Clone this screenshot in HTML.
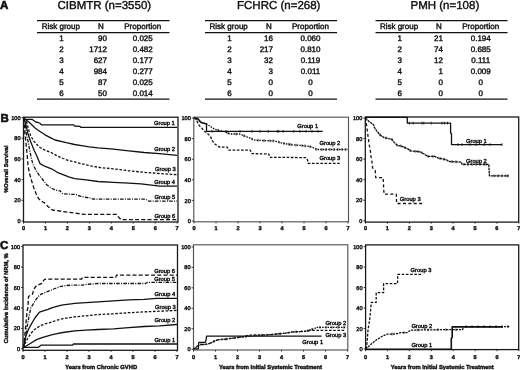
<!DOCTYPE html>
<html><head><meta charset="utf-8"><title>Figure</title>
<style>
html,body{margin:0;padding:0;background:#fff;}
body{width:520px;height:370px;overflow:hidden;}
svg{display:block;font-family:"Liberation Sans", sans-serif;fill:#111;}
text{stroke:#111;stroke-width:0.4px;text-rendering:geometricPrecision;}
.wrap{will-change:transform;}
</style></head>
<body>
<div class="wrap"><svg width="520" height="370" viewBox="0 0 520 370">
<rect width="520" height="370" fill="#fff"/>
<text x="0" y="8.8" font-size="11.5" text-anchor="start" font-weight="bold" style="stroke-width:0.6px">A</text>
<text x="0.4" y="121.7" font-size="11.5" text-anchor="start" font-weight="bold" style="stroke-width:0.6px">B</text>
<text x="0.1" y="248.8" font-size="11.5" text-anchor="start" font-weight="bold" style="stroke-width:0.6px">C</text>
<text x="57.5" y="9.0" font-size="11.5" text-anchor="start" font-weight="normal" >CIBMTR (n=3550)</text>
<text x="237" y="9.0" font-size="11.5" text-anchor="start" font-weight="normal" >FCHRC (n=268)</text>
<text x="410.5" y="9.0" font-size="11.5" text-anchor="start" font-weight="normal" >PMH (n=108)</text>
<line x1="37" y1="20.6" x2="169.5" y2="20.6" stroke="#111" stroke-width="1.2"/>
<line x1="37" y1="32.6" x2="169.5" y2="32.6" stroke="#111" stroke-width="1.2"/>
<line x1="37" y1="99.1" x2="169.5" y2="99.1" stroke="#111" stroke-width="1.3"/>
<text x="60.8" y="29" font-size="8" text-anchor="middle" font-weight="normal" >Risk group</text>
<text x="101" y="29" font-size="8" text-anchor="middle" font-weight="normal" >N</text>
<text x="142.75" y="29" font-size="8" text-anchor="middle" font-weight="normal" >Proportion</text>
<text x="61.5" y="41" font-size="8" text-anchor="middle" font-weight="normal" >1</text>
<text x="107" y="41" font-size="8" text-anchor="end" font-weight="normal" >90</text>
<text x="142.75" y="41" font-size="8" text-anchor="middle" font-weight="normal" >0.025</text>
<text x="61.5" y="52" font-size="8" text-anchor="middle" font-weight="normal" >2</text>
<text x="107" y="52" font-size="8" text-anchor="end" font-weight="normal" >1712</text>
<text x="142.75" y="52" font-size="8" text-anchor="middle" font-weight="normal" >0.482</text>
<text x="61.5" y="63" font-size="8" text-anchor="middle" font-weight="normal" >3</text>
<text x="107" y="63" font-size="8" text-anchor="end" font-weight="normal" >627</text>
<text x="142.75" y="63" font-size="8" text-anchor="middle" font-weight="normal" >0.177</text>
<text x="61.5" y="74" font-size="8" text-anchor="middle" font-weight="normal" >4</text>
<text x="107" y="74" font-size="8" text-anchor="end" font-weight="normal" >984</text>
<text x="142.75" y="74" font-size="8" text-anchor="middle" font-weight="normal" >0.277</text>
<text x="61.5" y="85" font-size="8" text-anchor="middle" font-weight="normal" >5</text>
<text x="107" y="85" font-size="8" text-anchor="end" font-weight="normal" >87</text>
<text x="142.75" y="85" font-size="8" text-anchor="middle" font-weight="normal" >0.025</text>
<text x="61.5" y="96" font-size="8" text-anchor="middle" font-weight="normal" >6</text>
<text x="107" y="96" font-size="8" text-anchor="end" font-weight="normal" >50</text>
<text x="142.75" y="96" font-size="8" text-anchor="middle" font-weight="normal" >0.014</text>
<line x1="205" y1="20.6" x2="337" y2="20.6" stroke="#111" stroke-width="1.2"/>
<line x1="205" y1="32.6" x2="337" y2="32.6" stroke="#111" stroke-width="1.2"/>
<line x1="205" y1="99.1" x2="337" y2="99.1" stroke="#111" stroke-width="1.3"/>
<text x="228.7" y="29" font-size="8" text-anchor="middle" font-weight="normal" >Risk group</text>
<text x="269" y="29" font-size="8" text-anchor="middle" font-weight="normal" >N</text>
<text x="310.5" y="29" font-size="8" text-anchor="middle" font-weight="normal" >Proportion</text>
<text x="229.39999999999998" y="41" font-size="8" text-anchor="middle" font-weight="normal" >1</text>
<text x="273" y="41" font-size="8" text-anchor="end" font-weight="normal" >16</text>
<text x="310.5" y="41" font-size="8" text-anchor="middle" font-weight="normal" >0.060</text>
<text x="229.39999999999998" y="52" font-size="8" text-anchor="middle" font-weight="normal" >2</text>
<text x="273" y="52" font-size="8" text-anchor="end" font-weight="normal" >217</text>
<text x="310.5" y="52" font-size="8" text-anchor="middle" font-weight="normal" >0.810</text>
<text x="229.39999999999998" y="63" font-size="8" text-anchor="middle" font-weight="normal" >3</text>
<text x="273" y="63" font-size="8" text-anchor="end" font-weight="normal" >32</text>
<text x="310.5" y="63" font-size="8" text-anchor="middle" font-weight="normal" >0.119</text>
<text x="229.39999999999998" y="74" font-size="8" text-anchor="middle" font-weight="normal" >4</text>
<text x="273" y="74" font-size="8" text-anchor="end" font-weight="normal" >3</text>
<text x="310.5" y="74" font-size="8" text-anchor="middle" font-weight="normal" >0.011</text>
<text x="229.39999999999998" y="85" font-size="8" text-anchor="middle" font-weight="normal" >5</text>
<text x="273" y="85" font-size="8" text-anchor="end" font-weight="normal" >0</text>
<text x="310.5" y="85" font-size="8" text-anchor="middle" font-weight="normal" >0</text>
<text x="229.39999999999998" y="96" font-size="8" text-anchor="middle" font-weight="normal" >6</text>
<text x="273" y="96" font-size="8" text-anchor="end" font-weight="normal" >0</text>
<text x="310.5" y="96" font-size="8" text-anchor="middle" font-weight="normal" >0</text>
<line x1="375.5" y1="20.6" x2="507.5" y2="20.6" stroke="#111" stroke-width="1.2"/>
<line x1="375.5" y1="32.6" x2="507.5" y2="32.6" stroke="#111" stroke-width="1.2"/>
<line x1="375.5" y1="99.1" x2="507.5" y2="99.1" stroke="#111" stroke-width="1.3"/>
<text x="399" y="29" font-size="8" text-anchor="middle" font-weight="normal" >Risk group</text>
<text x="439" y="29" font-size="8" text-anchor="middle" font-weight="normal" >N</text>
<text x="480.75" y="29" font-size="8" text-anchor="middle" font-weight="normal" >Proportion</text>
<text x="399.7" y="41" font-size="8" text-anchor="middle" font-weight="normal" >1</text>
<text x="443" y="41" font-size="8" text-anchor="end" font-weight="normal" >21</text>
<text x="480.75" y="41" font-size="8" text-anchor="middle" font-weight="normal" >0.194</text>
<text x="399.7" y="52" font-size="8" text-anchor="middle" font-weight="normal" >2</text>
<text x="443" y="52" font-size="8" text-anchor="end" font-weight="normal" >74</text>
<text x="480.75" y="52" font-size="8" text-anchor="middle" font-weight="normal" >0.685</text>
<text x="399.7" y="63" font-size="8" text-anchor="middle" font-weight="normal" >3</text>
<text x="443" y="63" font-size="8" text-anchor="end" font-weight="normal" >12</text>
<text x="480.75" y="63" font-size="8" text-anchor="middle" font-weight="normal" >0.111</text>
<text x="399.7" y="74" font-size="8" text-anchor="middle" font-weight="normal" >4</text>
<text x="443" y="74" font-size="8" text-anchor="end" font-weight="normal" >1</text>
<text x="480.75" y="74" font-size="8" text-anchor="middle" font-weight="normal" >0.009</text>
<text x="399.7" y="85" font-size="8" text-anchor="middle" font-weight="normal" >5</text>
<text x="443" y="85" font-size="8" text-anchor="end" font-weight="normal" >0</text>
<text x="480.75" y="85" font-size="8" text-anchor="middle" font-weight="normal" >0</text>
<text x="399.7" y="96" font-size="8" text-anchor="middle" font-weight="normal" >6</text>
<text x="443" y="96" font-size="8" text-anchor="end" font-weight="normal" >0</text>
<text x="480.75" y="96" font-size="8" text-anchor="middle" font-weight="normal" >0</text>
<rect x="23.5" y="117.2" width="154.5" height="104.8" fill="none" stroke="#1a1a1a" stroke-width="1.3"/>
<line x1="21.5" y1="221.0" x2="23.5" y2="221.0" stroke="#111" stroke-width="0.8"/>
<text x="20.5" y="223.1" font-size="5.6" text-anchor="end" font-weight="normal" >0</text>
<line x1="21.5" y1="200.3" x2="23.5" y2="200.3" stroke="#111" stroke-width="0.8"/>
<text x="20.5" y="202.4" font-size="5.6" text-anchor="end" font-weight="normal" >20</text>
<line x1="21.5" y1="179.6" x2="23.5" y2="179.6" stroke="#111" stroke-width="0.8"/>
<text x="20.5" y="181.7" font-size="5.6" text-anchor="end" font-weight="normal" >40</text>
<line x1="21.5" y1="158.9" x2="23.5" y2="158.9" stroke="#111" stroke-width="0.8"/>
<text x="20.5" y="161.0" font-size="5.6" text-anchor="end" font-weight="normal" >60</text>
<line x1="21.5" y1="138.2" x2="23.5" y2="138.2" stroke="#111" stroke-width="0.8"/>
<text x="20.5" y="140.29999999999998" font-size="5.6" text-anchor="end" font-weight="normal" >80</text>
<line x1="21.5" y1="117.5" x2="23.5" y2="117.5" stroke="#111" stroke-width="0.8"/>
<text x="20.5" y="119.6" font-size="5.6" text-anchor="end" font-weight="normal" >100</text>
<line x1="23.5" y1="222" x2="23.5" y2="223.6" stroke="#111" stroke-width="0.8"/>
<text x="23.5" y="230.1" font-size="5.6" text-anchor="middle" font-weight="bold" >0</text>
<line x1="45.45" y1="222" x2="45.45" y2="223.6" stroke="#111" stroke-width="0.8"/>
<text x="45.45" y="230.1" font-size="5.6" text-anchor="middle" font-weight="bold" >1</text>
<line x1="67.4" y1="222" x2="67.4" y2="223.6" stroke="#111" stroke-width="0.8"/>
<text x="67.4" y="230.1" font-size="5.6" text-anchor="middle" font-weight="bold" >2</text>
<line x1="89.35" y1="222" x2="89.35" y2="223.6" stroke="#111" stroke-width="0.8"/>
<text x="89.35" y="230.1" font-size="5.6" text-anchor="middle" font-weight="bold" >3</text>
<line x1="111.3" y1="222" x2="111.3" y2="223.6" stroke="#111" stroke-width="0.8"/>
<text x="111.3" y="230.1" font-size="5.6" text-anchor="middle" font-weight="bold" >4</text>
<line x1="133.25" y1="222" x2="133.25" y2="223.6" stroke="#111" stroke-width="0.8"/>
<text x="133.25" y="230.1" font-size="5.6" text-anchor="middle" font-weight="bold" >5</text>
<line x1="155.2" y1="222" x2="155.2" y2="223.6" stroke="#111" stroke-width="0.8"/>
<text x="155.2" y="230.1" font-size="5.6" text-anchor="middle" font-weight="bold" >6</text>
<line x1="177.15" y1="222" x2="177.15" y2="223.6" stroke="#111" stroke-width="0.8"/>
<text x="177.15" y="230.1" font-size="5.6" text-anchor="middle" font-weight="bold" >7</text>
<rect x="193.8" y="117.2" width="154.7" height="104.60000000000001" fill="none" stroke="#555" stroke-width="1.15"/>
<line x1="191.8" y1="221.0" x2="193.8" y2="221.0" stroke="#111" stroke-width="0.8"/>
<text x="190.8" y="223.1" font-size="5.6" text-anchor="end" font-weight="normal" >0</text>
<line x1="191.8" y1="200.4" x2="193.8" y2="200.4" stroke="#111" stroke-width="0.8"/>
<text x="190.8" y="202.5" font-size="5.6" text-anchor="end" font-weight="normal" >20</text>
<line x1="191.8" y1="179.8" x2="193.8" y2="179.8" stroke="#111" stroke-width="0.8"/>
<text x="190.8" y="181.9" font-size="5.6" text-anchor="end" font-weight="normal" >40</text>
<line x1="191.8" y1="159.2" x2="193.8" y2="159.2" stroke="#111" stroke-width="0.8"/>
<text x="190.8" y="161.29999999999998" font-size="5.6" text-anchor="end" font-weight="normal" >60</text>
<line x1="191.8" y1="138.6" x2="193.8" y2="138.6" stroke="#111" stroke-width="0.8"/>
<text x="190.8" y="140.7" font-size="5.6" text-anchor="end" font-weight="normal" >80</text>
<line x1="191.8" y1="118.0" x2="193.8" y2="118.0" stroke="#111" stroke-width="0.8"/>
<text x="190.8" y="120.1" font-size="5.6" text-anchor="end" font-weight="normal" >100</text>
<line x1="194" y1="221.8" x2="194" y2="223.4" stroke="#111" stroke-width="0.8"/>
<text x="194" y="229.9" font-size="5.6" text-anchor="middle" font-weight="bold" >0</text>
<line x1="216" y1="221.8" x2="216" y2="223.4" stroke="#111" stroke-width="0.8"/>
<text x="216" y="229.9" font-size="5.6" text-anchor="middle" font-weight="bold" >1</text>
<line x1="238" y1="221.8" x2="238" y2="223.4" stroke="#111" stroke-width="0.8"/>
<text x="238" y="229.9" font-size="5.6" text-anchor="middle" font-weight="bold" >2</text>
<line x1="260" y1="221.8" x2="260" y2="223.4" stroke="#111" stroke-width="0.8"/>
<text x="260" y="229.9" font-size="5.6" text-anchor="middle" font-weight="bold" >3</text>
<line x1="282" y1="221.8" x2="282" y2="223.4" stroke="#111" stroke-width="0.8"/>
<text x="282" y="229.9" font-size="5.6" text-anchor="middle" font-weight="bold" >4</text>
<line x1="304" y1="221.8" x2="304" y2="223.4" stroke="#111" stroke-width="0.8"/>
<text x="304" y="229.9" font-size="5.6" text-anchor="middle" font-weight="bold" >5</text>
<line x1="326" y1="221.8" x2="326" y2="223.4" stroke="#111" stroke-width="0.8"/>
<text x="326" y="229.9" font-size="5.6" text-anchor="middle" font-weight="bold" >6</text>
<line x1="348" y1="221.8" x2="348" y2="223.4" stroke="#111" stroke-width="0.8"/>
<text x="348" y="229.9" font-size="5.6" text-anchor="middle" font-weight="bold" >7</text>
<rect x="365.3" y="117.0" width="153.40000000000003" height="105.1" fill="none" stroke="#1a1a1a" stroke-width="1.3"/>
<line x1="363.3" y1="220.8" x2="365.3" y2="220.8" stroke="#111" stroke-width="0.8"/>
<text x="362.3" y="222.9" font-size="5.6" text-anchor="end" font-weight="normal" >0</text>
<line x1="363.3" y1="200.24" x2="365.3" y2="200.24" stroke="#111" stroke-width="0.8"/>
<text x="362.3" y="202.34" font-size="5.6" text-anchor="end" font-weight="normal" >20</text>
<line x1="363.3" y1="179.68" x2="365.3" y2="179.68" stroke="#111" stroke-width="0.8"/>
<text x="362.3" y="181.78" font-size="5.6" text-anchor="end" font-weight="normal" >40</text>
<line x1="363.3" y1="159.12" x2="365.3" y2="159.12" stroke="#111" stroke-width="0.8"/>
<text x="362.3" y="161.22" font-size="5.6" text-anchor="end" font-weight="normal" >60</text>
<line x1="363.3" y1="138.56" x2="365.3" y2="138.56" stroke="#111" stroke-width="0.8"/>
<text x="362.3" y="140.66" font-size="5.6" text-anchor="end" font-weight="normal" >80</text>
<line x1="363.3" y1="118.0" x2="365.3" y2="118.0" stroke="#111" stroke-width="0.8"/>
<text x="362.3" y="120.1" font-size="5.6" text-anchor="end" font-weight="normal" >100</text>
<line x1="365.5" y1="222.1" x2="365.5" y2="223.7" stroke="#111" stroke-width="0.8"/>
<text x="365.5" y="229.7" font-size="5.6" text-anchor="middle" font-weight="bold" >0</text>
<line x1="387.4" y1="222.1" x2="387.4" y2="223.7" stroke="#111" stroke-width="0.8"/>
<text x="387.4" y="229.7" font-size="5.6" text-anchor="middle" font-weight="bold" >1</text>
<line x1="409.3" y1="222.1" x2="409.3" y2="223.7" stroke="#111" stroke-width="0.8"/>
<text x="409.3" y="229.7" font-size="5.6" text-anchor="middle" font-weight="bold" >2</text>
<line x1="431.2" y1="222.1" x2="431.2" y2="223.7" stroke="#111" stroke-width="0.8"/>
<text x="431.2" y="229.7" font-size="5.6" text-anchor="middle" font-weight="bold" >3</text>
<line x1="453.1" y1="222.1" x2="453.1" y2="223.7" stroke="#111" stroke-width="0.8"/>
<text x="453.1" y="229.7" font-size="5.6" text-anchor="middle" font-weight="bold" >4</text>
<line x1="475.0" y1="222.1" x2="475.0" y2="223.7" stroke="#111" stroke-width="0.8"/>
<text x="475.0" y="229.7" font-size="5.6" text-anchor="middle" font-weight="bold" >5</text>
<line x1="496.9" y1="222.1" x2="496.9" y2="223.7" stroke="#111" stroke-width="0.8"/>
<text x="496.9" y="229.7" font-size="5.6" text-anchor="middle" font-weight="bold" >6</text>
<line x1="518.8" y1="222.1" x2="518.8" y2="223.7" stroke="#111" stroke-width="0.8"/>
<text x="518.8" y="229.7" font-size="5.6" text-anchor="middle" font-weight="bold" >7</text>
<rect x="23" y="245" width="154.5" height="105.30000000000001" fill="none" stroke="#1a1a1a" stroke-width="1.3"/>
<line x1="21" y1="348.8" x2="23" y2="348.8" stroke="#111" stroke-width="0.8"/>
<text x="20.0" y="350.90000000000003" font-size="5.6" text-anchor="end" font-weight="normal" >0</text>
<line x1="21" y1="328.36" x2="23" y2="328.36" stroke="#111" stroke-width="0.8"/>
<text x="20.0" y="330.46000000000004" font-size="5.6" text-anchor="end" font-weight="normal" >20</text>
<line x1="21" y1="307.92" x2="23" y2="307.92" stroke="#111" stroke-width="0.8"/>
<text x="20.0" y="310.02000000000004" font-size="5.6" text-anchor="end" font-weight="normal" >40</text>
<line x1="21" y1="287.48" x2="23" y2="287.48" stroke="#111" stroke-width="0.8"/>
<text x="20.0" y="289.58000000000004" font-size="5.6" text-anchor="end" font-weight="normal" >60</text>
<line x1="21" y1="267.03999999999996" x2="23" y2="267.03999999999996" stroke="#111" stroke-width="0.8"/>
<text x="20.0" y="269.14" font-size="5.6" text-anchor="end" font-weight="normal" >80</text>
<line x1="21" y1="246.6" x2="23" y2="246.6" stroke="#111" stroke-width="0.8"/>
<text x="20.0" y="248.7" font-size="5.6" text-anchor="end" font-weight="normal" >100</text>
<line x1="23" y1="350.3" x2="23" y2="351.90000000000003" stroke="#111" stroke-width="0.8"/>
<text x="23" y="358.7" font-size="5.6" text-anchor="middle" font-weight="bold" >0</text>
<line x1="45" y1="350.3" x2="45" y2="351.90000000000003" stroke="#111" stroke-width="0.8"/>
<text x="45" y="358.7" font-size="5.6" text-anchor="middle" font-weight="bold" >1</text>
<line x1="67" y1="350.3" x2="67" y2="351.90000000000003" stroke="#111" stroke-width="0.8"/>
<text x="67" y="358.7" font-size="5.6" text-anchor="middle" font-weight="bold" >2</text>
<line x1="89" y1="350.3" x2="89" y2="351.90000000000003" stroke="#111" stroke-width="0.8"/>
<text x="89" y="358.7" font-size="5.6" text-anchor="middle" font-weight="bold" >3</text>
<line x1="111" y1="350.3" x2="111" y2="351.90000000000003" stroke="#111" stroke-width="0.8"/>
<text x="111" y="358.7" font-size="5.6" text-anchor="middle" font-weight="bold" >4</text>
<line x1="133" y1="350.3" x2="133" y2="351.90000000000003" stroke="#111" stroke-width="0.8"/>
<text x="133" y="358.7" font-size="5.6" text-anchor="middle" font-weight="bold" >5</text>
<line x1="155" y1="350.3" x2="155" y2="351.90000000000003" stroke="#111" stroke-width="0.8"/>
<text x="155" y="358.7" font-size="5.6" text-anchor="middle" font-weight="bold" >6</text>
<line x1="177" y1="350.3" x2="177" y2="351.90000000000003" stroke="#111" stroke-width="0.8"/>
<text x="177" y="358.7" font-size="5.6" text-anchor="middle" font-weight="bold" >7</text>
<rect x="193.5" y="244.8" width="154.3" height="105.19999999999999" fill="none" stroke="#555" stroke-width="1.15"/>
<line x1="191.5" y1="349.2" x2="193.5" y2="349.2" stroke="#111" stroke-width="0.8"/>
<text x="190.5" y="351.3" font-size="5.6" text-anchor="end" font-weight="normal" >0</text>
<line x1="191.5" y1="328.74" x2="193.5" y2="328.74" stroke="#111" stroke-width="0.8"/>
<text x="190.5" y="330.84000000000003" font-size="5.6" text-anchor="end" font-weight="normal" >20</text>
<line x1="191.5" y1="308.28" x2="193.5" y2="308.28" stroke="#111" stroke-width="0.8"/>
<text x="190.5" y="310.38" font-size="5.6" text-anchor="end" font-weight="normal" >40</text>
<line x1="191.5" y1="287.82" x2="193.5" y2="287.82" stroke="#111" stroke-width="0.8"/>
<text x="190.5" y="289.92" font-size="5.6" text-anchor="end" font-weight="normal" >60</text>
<line x1="191.5" y1="267.36" x2="193.5" y2="267.36" stroke="#111" stroke-width="0.8"/>
<text x="190.5" y="269.46000000000004" font-size="5.6" text-anchor="end" font-weight="normal" >80</text>
<line x1="191.5" y1="246.9" x2="193.5" y2="246.9" stroke="#111" stroke-width="0.8"/>
<text x="190.5" y="249.0" font-size="5.6" text-anchor="end" font-weight="normal" >100</text>
<line x1="193.5" y1="350" x2="193.5" y2="351.6" stroke="#111" stroke-width="0.8"/>
<text x="193.5" y="358.7" font-size="5.6" text-anchor="middle" font-weight="bold" >0</text>
<line x1="215.5" y1="350" x2="215.5" y2="351.6" stroke="#111" stroke-width="0.8"/>
<text x="215.5" y="358.7" font-size="5.6" text-anchor="middle" font-weight="bold" >1</text>
<line x1="237.5" y1="350" x2="237.5" y2="351.6" stroke="#111" stroke-width="0.8"/>
<text x="237.5" y="358.7" font-size="5.6" text-anchor="middle" font-weight="bold" >2</text>
<line x1="259.5" y1="350" x2="259.5" y2="351.6" stroke="#111" stroke-width="0.8"/>
<text x="259.5" y="358.7" font-size="5.6" text-anchor="middle" font-weight="bold" >3</text>
<line x1="281.5" y1="350" x2="281.5" y2="351.6" stroke="#111" stroke-width="0.8"/>
<text x="281.5" y="358.7" font-size="5.6" text-anchor="middle" font-weight="bold" >4</text>
<line x1="303.5" y1="350" x2="303.5" y2="351.6" stroke="#111" stroke-width="0.8"/>
<text x="303.5" y="358.7" font-size="5.6" text-anchor="middle" font-weight="bold" >5</text>
<line x1="325.5" y1="350" x2="325.5" y2="351.6" stroke="#111" stroke-width="0.8"/>
<text x="325.5" y="358.7" font-size="5.6" text-anchor="middle" font-weight="bold" >6</text>
<line x1="347.5" y1="350" x2="347.5" y2="351.6" stroke="#111" stroke-width="0.8"/>
<text x="347.5" y="358.7" font-size="5.6" text-anchor="middle" font-weight="bold" >7</text>
<rect x="365.6" y="244.9" width="153.10000000000002" height="104.70000000000002" fill="none" stroke="#1a1a1a" stroke-width="1.3"/>
<line x1="363.6" y1="349.0" x2="365.6" y2="349.0" stroke="#111" stroke-width="0.8"/>
<text x="362.6" y="351.1" font-size="5.6" text-anchor="end" font-weight="normal" >0</text>
<line x1="363.6" y1="328.52" x2="365.6" y2="328.52" stroke="#111" stroke-width="0.8"/>
<text x="362.6" y="330.62" font-size="5.6" text-anchor="end" font-weight="normal" >20</text>
<line x1="363.6" y1="308.04" x2="365.6" y2="308.04" stroke="#111" stroke-width="0.8"/>
<text x="362.6" y="310.14000000000004" font-size="5.6" text-anchor="end" font-weight="normal" >40</text>
<line x1="363.6" y1="287.56" x2="365.6" y2="287.56" stroke="#111" stroke-width="0.8"/>
<text x="362.6" y="289.66" font-size="5.6" text-anchor="end" font-weight="normal" >60</text>
<line x1="363.6" y1="267.08" x2="365.6" y2="267.08" stroke="#111" stroke-width="0.8"/>
<text x="362.6" y="269.18" font-size="5.6" text-anchor="end" font-weight="normal" >80</text>
<line x1="363.6" y1="246.6" x2="365.6" y2="246.6" stroke="#111" stroke-width="0.8"/>
<text x="362.6" y="248.7" font-size="5.6" text-anchor="end" font-weight="normal" >100</text>
<line x1="365.6" y1="349.6" x2="365.6" y2="351.20000000000005" stroke="#111" stroke-width="0.8"/>
<text x="365.6" y="358.70000000000005" font-size="5.6" text-anchor="middle" font-weight="bold" >0</text>
<line x1="387.5" y1="349.6" x2="387.5" y2="351.20000000000005" stroke="#111" stroke-width="0.8"/>
<text x="387.5" y="358.70000000000005" font-size="5.6" text-anchor="middle" font-weight="bold" >1</text>
<line x1="409.40000000000003" y1="349.6" x2="409.40000000000003" y2="351.20000000000005" stroke="#111" stroke-width="0.8"/>
<text x="409.40000000000003" y="358.70000000000005" font-size="5.6" text-anchor="middle" font-weight="bold" >2</text>
<line x1="431.3" y1="349.6" x2="431.3" y2="351.20000000000005" stroke="#111" stroke-width="0.8"/>
<text x="431.3" y="358.70000000000005" font-size="5.6" text-anchor="middle" font-weight="bold" >3</text>
<line x1="453.20000000000005" y1="349.6" x2="453.20000000000005" y2="351.20000000000005" stroke="#111" stroke-width="0.8"/>
<text x="453.20000000000005" y="358.70000000000005" font-size="5.6" text-anchor="middle" font-weight="bold" >4</text>
<line x1="475.1" y1="349.6" x2="475.1" y2="351.20000000000005" stroke="#111" stroke-width="0.8"/>
<text x="475.1" y="358.70000000000005" font-size="5.6" text-anchor="middle" font-weight="bold" >5</text>
<line x1="497.0" y1="349.6" x2="497.0" y2="351.20000000000005" stroke="#111" stroke-width="0.8"/>
<text x="497.0" y="358.70000000000005" font-size="5.6" text-anchor="middle" font-weight="bold" >6</text>
<line x1="518.9" y1="349.6" x2="518.9" y2="351.20000000000005" stroke="#111" stroke-width="0.8"/>
<text x="518.9" y="358.70000000000005" font-size="5.6" text-anchor="middle" font-weight="bold" >7</text>
<text x="7.8" y="169.2" font-size="5.6" font-weight="bold" text-anchor="middle" transform="rotate(-90 7.8 169.2)">%Overall Survival</text>
<text x="7.9" y="298.3" font-size="5.8" font-weight="bold" text-anchor="middle" transform="rotate(-90 7.9 298.3)">Cumulative incidence of NRM, %</text>
<text x="101.2" y="369" font-size="5.8" text-anchor="middle" font-weight="bold" >Years from Chronic GVHD</text>
<text x="270.5" y="369" font-size="5.8" text-anchor="middle" font-weight="bold" >Years from Initial Systemic Treatment</text>
<text x="442.2" y="369" font-size="5.8" text-anchor="middle" font-weight="bold" >Years from Initial Systemic Treatment</text>
<path d="M23.8,119.3 L32.0,119.3 L36.0,122.2 L38.0,122.5 L39.5,123.0 L41.5,124.8 L73.8,124.8 L74.6,126.0 L80.0,126.3 L80.8,127.4 L177.0,127.4" fill="none" stroke="#111" stroke-width="1.3" stroke-linejoin="round"/>
<path d="M23.8,118.0 L25.0,119.0 L29.5,122.5 L32.0,125.0 L34.5,127.5 L37.0,129.5 L40.0,131.5 L42.0,132.8 L45.0,134.8 L50.8,137.8 L55.0,140.0 L66.2,142.7 L74.6,144.5 L81.5,145.6 L89.2,146.8 L98.0,147.8 L113.4,149.1 L128.8,150.9 L144.2,152.5 L159.5,153.7 L177.0,155.3" fill="none" stroke="#111" stroke-width="1.3" stroke-linejoin="round"/>
<path d="M23.8,118.0 L25.5,120.0 L26.8,122.5 L28.5,129.3 L30.7,135.8 L33.9,141.3 L38.3,146.0 L40.0,147.5 L45.0,150.2 L51.5,152.7 L57.0,155.8 L63.0,158.5 L68.0,160.3 L74.6,161.9 L80.0,163.4 L86.1,164.8 L92.0,166.2 L100.0,167.5 L113.4,168.9 L128.8,170.8 L144.2,172.3 L159.5,173.5 L177.0,174.7" fill="none" stroke="#111" stroke-width="1.3" stroke-dasharray="2.6,1.6" stroke-linejoin="round"/>
<path d="M23.8,118.0 L25.4,122.5 L28.1,134.3 L30.8,142.0 L32.2,145.5 L34.2,150.5 L36.2,154.5 L38.9,161.0 L40.0,163.6 L44.6,166.2 L51.5,168.8 L57.3,172.3 L63.0,174.6 L68.8,176.9 L74.6,178.6 L86.1,179.9 L98.0,181.5 L113.4,182.3 L128.8,183.1 L141.0,183.8 L153.4,185.4 L159.5,186.2 L177.0,186.2" fill="none" stroke="#111" stroke-width="1.3" stroke-linejoin="round"/>
<path d="M23.8,118.0 L24.8,122.0 L26.3,133.7 L28.0,141.3 L29.6,149.9 L31.2,157.5 L32.8,164.0 L35.4,169.2 L39.0,175.0 L43.0,180.0 L46.5,184.5 L50.8,187.7 L54.0,189.5 L58.5,190.6 L60.0,190.8 L62.9,193.9 L77.3,194.6 L79.2,196.0 L84.0,197.0 L89.8,198.0 L92.7,199.0 L98.0,199.2 L145.7,199.2 L148.8,201.2 L177.0,201.2" fill="none" stroke="#111" stroke-width="1.3" stroke-dasharray="3.5,1.3,1,1.3" stroke-linejoin="round"/>
<path d="M23.8,118.0 L24.3,125.0 L24.7,131.5 L25.8,141.3 L26.9,152.1 L28.0,165.0 L29.2,172.3 L31.5,180.5 L33.8,187.7 L36.0,193.5 L38.5,198.5 L41.0,200.8 L44.6,203.0 L48.0,206.5 L52.3,210.0 L63.0,211.5 L73.8,213.0 L84.6,214.4 L116.5,214.4 L118.0,216.5 L121.0,219.6 L177.0,219.6" fill="none" stroke="#111" stroke-width="1.3" stroke-dasharray="4,2.2" stroke-linejoin="round"/>
<text x="154" y="125.2" font-size="5.75" text-anchor="start" font-weight="normal" >Group 1</text>
<text x="154.2" y="150.9" font-size="5.75" text-anchor="start" font-weight="normal" >Group 2</text>
<text x="155" y="170.6" font-size="5.75" text-anchor="start" font-weight="normal" >Group 3</text>
<text x="154.2" y="184.4" font-size="5.75" text-anchor="start" font-weight="normal" >Group 4</text>
<text x="154.5" y="199.0" font-size="5.75" text-anchor="start" font-weight="normal" >Group 5</text>
<text x="154.5" y="217.6" font-size="5.75" text-anchor="start" font-weight="normal" >Group 6</text>
<path d="M194.2,117.6 L198.0,118.6 L201.0,122.5 L206.5,124.0 L206.5,131.3 L322.7,131.3" fill="none" stroke="#111" stroke-width="1.3" stroke-linejoin="round"/>
<line x1="212.0" y1="129.9" x2="212.0" y2="132.7" stroke="#111" stroke-width="0.8"/>
<line x1="226.0" y1="129.9" x2="226.0" y2="132.7" stroke="#111" stroke-width="0.8"/>
<line x1="240.0" y1="129.9" x2="240.0" y2="132.7" stroke="#111" stroke-width="0.8"/>
<line x1="252.0" y1="129.9" x2="252.0" y2="132.7" stroke="#111" stroke-width="0.8"/>
<line x1="260.1" y1="129.9" x2="260.1" y2="132.7" stroke="#111" stroke-width="0.8"/>
<line x1="268.3" y1="129.9" x2="268.3" y2="132.7" stroke="#111" stroke-width="0.8"/>
<line x1="277.4" y1="129.9" x2="277.4" y2="132.7" stroke="#111" stroke-width="0.8"/>
<line x1="278.8" y1="129.9" x2="278.8" y2="132.7" stroke="#111" stroke-width="0.8"/>
<line x1="283.2" y1="129.9" x2="283.2" y2="132.7" stroke="#111" stroke-width="0.8"/>
<line x1="293.8" y1="129.9" x2="293.8" y2="132.7" stroke="#111" stroke-width="0.8"/>
<line x1="300.0" y1="129.9" x2="300.0" y2="132.7" stroke="#111" stroke-width="0.8"/>
<line x1="306.0" y1="129.9" x2="306.0" y2="132.7" stroke="#111" stroke-width="0.8"/>
<line x1="312.0" y1="129.9" x2="312.0" y2="132.7" stroke="#111" stroke-width="0.8"/>
<line x1="318.0" y1="129.9" x2="318.0" y2="132.7" stroke="#111" stroke-width="0.8"/>
<path d="M194.2,117.6 L198.0,120.2 L202.0,122.5 L206.5,124.0 L214.9,129.4 L224.2,131.7 L230.3,134.0 L239.5,134.0 L247.2,137.0 L255.0,140.2 L275.0,141.0 L282.7,143.2 L291.9,144.8 L301.2,145.5 L308.8,146.3 L313.5,147.8 L316.5,149.5 L347.5,149.5" fill="none" stroke="#111" stroke-width="1.3" stroke-dasharray="1.6,1.1" stroke-linejoin="round"/>
<line x1="218.0" y1="128.8" x2="218.0" y2="131.6" stroke="#111" stroke-width="0.8"/>
<line x1="228.0" y1="131.7" x2="228.0" y2="134.5" stroke="#111" stroke-width="0.8"/>
<line x1="236.0" y1="132.6" x2="236.0" y2="135.4" stroke="#111" stroke-width="0.8"/>
<line x1="244.0" y1="134.4" x2="244.0" y2="137.2" stroke="#111" stroke-width="0.8"/>
<line x1="252.0" y1="137.6" x2="252.0" y2="140.4" stroke="#111" stroke-width="0.8"/>
<line x1="258.0" y1="138.9" x2="258.0" y2="141.7" stroke="#111" stroke-width="0.8"/>
<line x1="264.0" y1="139.2" x2="264.0" y2="142.0" stroke="#111" stroke-width="0.8"/>
<line x1="270.0" y1="139.4" x2="270.0" y2="142.2" stroke="#111" stroke-width="0.8"/>
<line x1="273.0" y1="139.5" x2="273.0" y2="142.3" stroke="#111" stroke-width="0.8"/>
<line x1="279.0" y1="140.7" x2="279.0" y2="143.5" stroke="#111" stroke-width="0.8"/>
<line x1="284.0" y1="142.0" x2="284.0" y2="144.8" stroke="#111" stroke-width="0.8"/>
<line x1="289.0" y1="142.9" x2="289.0" y2="145.7" stroke="#111" stroke-width="0.8"/>
<line x1="291.0" y1="143.2" x2="291.0" y2="146.0" stroke="#111" stroke-width="0.8"/>
<line x1="296.0" y1="143.7" x2="296.0" y2="146.5" stroke="#111" stroke-width="0.8"/>
<line x1="302.0" y1="144.2" x2="302.0" y2="147.0" stroke="#111" stroke-width="0.8"/>
<line x1="305.0" y1="144.5" x2="305.0" y2="147.3" stroke="#111" stroke-width="0.8"/>
<line x1="310.0" y1="145.3" x2="310.0" y2="148.1" stroke="#111" stroke-width="0.8"/>
<line x1="316.0" y1="147.8" x2="316.0" y2="150.6" stroke="#111" stroke-width="0.8"/>
<line x1="322.0" y1="148.1" x2="322.0" y2="150.9" stroke="#111" stroke-width="0.8"/>
<line x1="326.0" y1="148.1" x2="326.0" y2="150.9" stroke="#111" stroke-width="0.8"/>
<line x1="330.0" y1="148.1" x2="330.0" y2="150.9" stroke="#111" stroke-width="0.8"/>
<line x1="334.0" y1="148.1" x2="334.0" y2="150.9" stroke="#111" stroke-width="0.8"/>
<line x1="338.0" y1="148.1" x2="338.0" y2="150.9" stroke="#111" stroke-width="0.8"/>
<line x1="342.0" y1="148.1" x2="342.0" y2="150.9" stroke="#111" stroke-width="0.8"/>
<line x1="346.0" y1="148.1" x2="346.0" y2="150.9" stroke="#111" stroke-width="0.8"/>
<path d="M194.2,117.6 L196.2,120.2 L197.7,122.5 L199.2,125.5 L201.5,127.8 L203.8,130.5 L208.5,134.4 L210.8,137.0 L211.8,140.2 L214.9,144.0 L219.5,147.1 L227.2,147.1 L228.8,150.2 L250.3,150.2 L251.8,153.6 L268.8,154.0 L269.6,157.3 L305.8,157.6 L307.6,160.2 L308.0,163.3 L340.0,163.3" fill="none" stroke="#111" stroke-width="1.3" stroke-dasharray="2.6,1.6" stroke-linejoin="round"/>
<text x="297.3" y="128.0" font-size="5.75" text-anchor="start" font-weight="normal" >Group 1</text>
<text x="319.5" y="144.8" font-size="5.75" text-anchor="start" font-weight="normal" >Group 2</text>
<text x="319.5" y="159.9" font-size="5.75" text-anchor="start" font-weight="normal" >Group 3</text>
<path d="M365.5,117.4 L407.3,117.4 L407.3,123.1 L450.6,123.1 L450.6,133.0 L451.5,134.0 L451.5,144.6 L502.0,144.6" fill="none" stroke="#111" stroke-width="1.3" stroke-linejoin="round"/>
<line x1="409.4" y1="121.7" x2="409.4" y2="124.5" stroke="#111" stroke-width="0.8"/>
<line x1="413.1" y1="121.7" x2="413.1" y2="124.5" stroke="#111" stroke-width="0.8"/>
<line x1="421.9" y1="121.7" x2="421.9" y2="124.5" stroke="#111" stroke-width="0.8"/>
<line x1="423.8" y1="121.7" x2="423.8" y2="124.5" stroke="#111" stroke-width="0.8"/>
<line x1="431.2" y1="121.7" x2="431.2" y2="124.5" stroke="#111" stroke-width="0.8"/>
<line x1="441.9" y1="121.7" x2="441.9" y2="124.5" stroke="#111" stroke-width="0.8"/>
<line x1="444.4" y1="121.7" x2="444.4" y2="124.5" stroke="#111" stroke-width="0.8"/>
<line x1="447.5" y1="121.7" x2="447.5" y2="124.5" stroke="#111" stroke-width="0.8"/>
<line x1="458.0" y1="143.2" x2="458.0" y2="146.0" stroke="#111" stroke-width="0.8"/>
<line x1="462.0" y1="143.2" x2="462.0" y2="146.0" stroke="#111" stroke-width="0.8"/>
<line x1="470.0" y1="143.2" x2="470.0" y2="146.0" stroke="#111" stroke-width="0.8"/>
<line x1="476.0" y1="143.2" x2="476.0" y2="146.0" stroke="#111" stroke-width="0.8"/>
<line x1="484.0" y1="143.2" x2="484.0" y2="146.0" stroke="#111" stroke-width="0.8"/>
<line x1="490.0" y1="143.2" x2="490.0" y2="146.0" stroke="#111" stroke-width="0.8"/>
<line x1="502.0" y1="143.2" x2="502.0" y2="146.0" stroke="#111" stroke-width="0.8"/>
<path d="M365.5,117.8 L369.3,121.7 L373.6,124.7 L374.2,127.2 L376.6,130.8 L380.2,135.1 L383.9,137.5 L388.8,138.7 L391.8,139.3 L394.2,142.4 L397.3,145.4 L400.9,146.0 L404.0,147.2 L408.2,149.1 L410.7,150.9 L413.5,151.2 L419.6,151.7 L424.2,154.0 L427.3,156.3 L435.0,156.5 L438.3,158.1 L446.4,159.8 L449.0,161.5 L461.3,162.1 L462.2,164.4 L488.8,164.4 L489.4,175.8 L508.8,175.8" fill="none" stroke="#111" stroke-width="1.3" stroke-dasharray="2.6,0.6" stroke-linejoin="round"/>
<line x1="380.0" y1="133.5" x2="380.0" y2="136.3" stroke="#111" stroke-width="0.8"/>
<line x1="386.0" y1="136.6" x2="386.0" y2="139.4" stroke="#111" stroke-width="0.8"/>
<line x1="392.0" y1="138.2" x2="392.0" y2="141.0" stroke="#111" stroke-width="0.8"/>
<line x1="397.0" y1="143.7" x2="397.0" y2="146.5" stroke="#111" stroke-width="0.8"/>
<line x1="401.0" y1="144.6" x2="401.0" y2="147.4" stroke="#111" stroke-width="0.8"/>
<line x1="405.0" y1="146.3" x2="405.0" y2="149.1" stroke="#111" stroke-width="0.8"/>
<line x1="410.0" y1="149.0" x2="410.0" y2="151.8" stroke="#111" stroke-width="0.8"/>
<line x1="415.0" y1="149.9" x2="415.0" y2="152.7" stroke="#111" stroke-width="0.8"/>
<line x1="418.0" y1="150.2" x2="418.0" y2="153.0" stroke="#111" stroke-width="0.8"/>
<line x1="422.0" y1="151.5" x2="422.0" y2="154.3" stroke="#111" stroke-width="0.8"/>
<line x1="428.0" y1="154.9" x2="428.0" y2="157.7" stroke="#111" stroke-width="0.8"/>
<line x1="433.0" y1="155.0" x2="433.0" y2="157.8" stroke="#111" stroke-width="0.8"/>
<line x1="440.0" y1="157.1" x2="440.0" y2="159.9" stroke="#111" stroke-width="0.8"/>
<line x1="444.0" y1="157.9" x2="444.0" y2="160.7" stroke="#111" stroke-width="0.8"/>
<line x1="452.0" y1="160.2" x2="452.0" y2="163.0" stroke="#111" stroke-width="0.8"/>
<line x1="456.0" y1="160.4" x2="456.0" y2="163.2" stroke="#111" stroke-width="0.8"/>
<line x1="464.0" y1="163.0" x2="464.0" y2="165.8" stroke="#111" stroke-width="0.8"/>
<line x1="468.0" y1="163.0" x2="468.0" y2="165.8" stroke="#111" stroke-width="0.8"/>
<line x1="472.0" y1="163.0" x2="472.0" y2="165.8" stroke="#111" stroke-width="0.8"/>
<line x1="476.0" y1="163.0" x2="476.0" y2="165.8" stroke="#111" stroke-width="0.8"/>
<line x1="480.0" y1="163.0" x2="480.0" y2="165.8" stroke="#111" stroke-width="0.8"/>
<line x1="484.0" y1="163.0" x2="484.0" y2="165.8" stroke="#111" stroke-width="0.8"/>
<line x1="486.0" y1="163.0" x2="486.0" y2="165.8" stroke="#111" stroke-width="0.8"/>
<line x1="494.0" y1="174.4" x2="494.0" y2="177.2" stroke="#111" stroke-width="0.8"/>
<line x1="498.0" y1="174.4" x2="498.0" y2="177.2" stroke="#111" stroke-width="0.8"/>
<line x1="502.0" y1="174.4" x2="502.0" y2="177.2" stroke="#111" stroke-width="0.8"/>
<line x1="506.0" y1="174.4" x2="506.0" y2="177.2" stroke="#111" stroke-width="0.8"/>
<line x1="508.0" y1="174.4" x2="508.0" y2="177.2" stroke="#111" stroke-width="0.8"/>
<path d="M365.5,117.8 L366.9,127.2 L368.1,136.9 L369.3,145.4 L370.5,151.5 L371.1,157.6 L371.9,161.5 L372.6,167.9 L375.2,170.5 L375.7,177.6 L383.1,177.6 L384.0,194.2 L396.3,194.2 L396.6,203.5 L424.4,203.5" fill="none" stroke="#111" stroke-width="1.3" stroke-dasharray="3,2.4" stroke-linejoin="round"/>
<text x="466" y="143.0" font-size="5.75" text-anchor="start" font-weight="normal" >Group 1</text>
<text x="466" y="162.9" font-size="5.75" text-anchor="start" font-weight="normal" >Group 2</text>
<text x="399.8" y="201.2" font-size="5.75" text-anchor="start" font-weight="normal" >Group 3</text>
<path d="M23.4,347.4 L38.0,347.4 L41.0,345.2 L72.6,345.2 L73.5,344.0 L177.0,344.0" fill="none" stroke="#111" stroke-width="1.3" stroke-linejoin="round"/>
<path d="M23.4,348.0 L24.2,347.3 L30.3,343.5 L36.5,339.6 L42.0,337.6 L51.5,334.8 L57.0,333.6 L63.0,332.5 L74.6,330.8 L86.1,330.2 L98.0,329.5 L113.4,328.8 L128.8,327.6 L144.2,326.5 L159.5,325.8 L177.0,324.5" fill="none" stroke="#111" stroke-width="1.3" stroke-linejoin="round"/>
<path d="M23.4,348.0 L24.2,345.8 L26.5,340.5 L28.8,336.5 L33.4,330.4 L37.0,327.8 L41.0,325.4 L46.0,323.6 L51.5,322.1 L57.0,320.2 L63.0,318.6 L74.6,316.9 L86.1,315.8 L98.0,314.6 L113.4,313.8 L128.8,312.7 L144.2,311.9 L159.5,311.2 L177.0,310.4" fill="none" stroke="#111" stroke-width="1.3" stroke-dasharray="2.6,1.6" stroke-linejoin="round"/>
<path d="M23.4,348.0 L25.7,336.5 L28.0,330.5 L30.3,325.8 L34.9,318.0 L39.5,312.2 L44.0,310.6 L48.1,309.4 L51.5,307.9 L59.6,305.6 L63.0,304.8 L71.1,303.8 L74.6,303.3 L86.1,302.6 L98.0,301.9 L113.4,300.8 L128.8,299.9 L144.2,299.3 L156.5,298.4 L177.0,298.4" fill="none" stroke="#111" stroke-width="1.3" stroke-linejoin="round"/>
<path d="M23.4,348.0 L24.9,341.2 L27.2,325.8 L29.5,314.0 L30.8,308.0 L34.2,302.3 L37.7,297.1 L41.1,294.2 L48.1,291.3 L53.8,289.0 L59.6,286.7 L65.4,285.6 L72.0,285.1 L82.6,285.1 L87.2,284.3 L98.0,283.5 L145.7,283.5 L147.5,282.3 L177.0,282.3" fill="none" stroke="#111" stroke-width="1.3" stroke-dasharray="3.5,1.3,1,1.3" stroke-linejoin="round"/>
<path d="M23.4,348.0 L24.2,341.2 L25.7,325.8 L27.2,310.4 L27.9,308.0 L28.5,296.5 L30.8,294.8 L32.5,294.2 L33.7,289.6 L36.0,286.1 L39.4,284.4 L42.3,283.3 L44.0,279.8 L45.8,279.2 L81.5,279.2 L82.7,277.4 L115.7,277.4 L116.5,275.1 L177.0,275.1" fill="none" stroke="#111" stroke-width="1.3" stroke-dasharray="4,2.2" stroke-linejoin="round"/>
<text x="154.5" y="342.2" font-size="5.75" text-anchor="start" font-weight="normal" >Group 1</text>
<text x="154.5" y="322.4" font-size="5.75" text-anchor="start" font-weight="normal" >Group 2</text>
<text x="155" y="308.8" font-size="5.75" text-anchor="start" font-weight="normal" >Group 3</text>
<text x="154.5" y="296.4" font-size="5.75" text-anchor="start" font-weight="normal" >Group 4</text>
<text x="154.2" y="281.0" font-size="5.75" text-anchor="start" font-weight="normal" >Group 5</text>
<text x="154.2" y="273.2" font-size="5.75" text-anchor="start" font-weight="normal" >Group 6</text>
<path d="M193.6,348.9 L198.3,348.9 L198.8,342.4 L205.4,342.4 L206.2,339.2 L206.6,336.2 L321.6,336.2" fill="none" stroke="#111" stroke-width="1.3" stroke-linejoin="round"/>
<path d="M193.6,349.0 L194.5,348.5 L197.3,346.1 L199.7,344.5 L203.8,344.5 L207.4,344.1 L211.1,342.8 L214.3,341.2 L218.4,339.6 L224.0,339.4 L228.1,338.8 L244.2,336.6 L270.0,334.7 L285.4,333.2 L293.0,331.9 L306.9,331.2 L310.8,329.6 L315.4,328.1 L316.0,327.3 L345.4,327.3" fill="none" stroke="#111" stroke-width="1.3" stroke-dasharray="1.6,1.1" stroke-linejoin="round"/>
<line x1="214.0" y1="340.0" x2="214.0" y2="342.8" stroke="#111" stroke-width="0.8"/>
<line x1="226.0" y1="337.7" x2="226.0" y2="340.5" stroke="#111" stroke-width="0.8"/>
<line x1="246.0" y1="335.1" x2="246.0" y2="337.9" stroke="#111" stroke-width="0.8"/>
<line x1="262.0" y1="333.9" x2="262.0" y2="336.7" stroke="#111" stroke-width="0.8"/>
<line x1="280.0" y1="332.3" x2="280.0" y2="335.1" stroke="#111" stroke-width="0.8"/>
<line x1="296.0" y1="330.3" x2="296.0" y2="333.1" stroke="#111" stroke-width="0.8"/>
<line x1="308.0" y1="329.3" x2="308.0" y2="332.1" stroke="#111" stroke-width="0.8"/>
<line x1="312.0" y1="327.8" x2="312.0" y2="330.6" stroke="#111" stroke-width="0.8"/>
<line x1="320.0" y1="325.9" x2="320.0" y2="328.7" stroke="#111" stroke-width="0.8"/>
<line x1="326.0" y1="325.9" x2="326.0" y2="328.7" stroke="#111" stroke-width="0.8"/>
<line x1="332.0" y1="325.9" x2="332.0" y2="328.7" stroke="#111" stroke-width="0.8"/>
<line x1="338.0" y1="325.9" x2="338.0" y2="328.7" stroke="#111" stroke-width="0.8"/>
<line x1="344.0" y1="325.9" x2="344.0" y2="328.7" stroke="#111" stroke-width="0.8"/>
<path d="M193.6,349.0 L194.5,348.5 L197.3,346.1 L199.7,344.5 L203.8,344.5 L207.4,344.1 L211.1,342.8 L214.3,341.2 L218.4,339.6 L224.0,339.4 L228.1,338.8 L244.2,336.9 L248.8,335.1 L270.0,334.7 L285.4,333.2 L293.0,331.9 L306.9,331.2 L310.8,330.4 L345.4,330.4" fill="none" stroke="#111" stroke-width="1.3" stroke-dasharray="2.6,1.6" stroke-linejoin="round"/>
<text x="302.3" y="344.2" font-size="5.75" text-anchor="start" font-weight="normal" >Group 1</text>
<text x="325.4" y="324.5" font-size="5.75" text-anchor="start" font-weight="normal" >Group 2</text>
<text x="325.4" y="336.5" font-size="5.75" text-anchor="start" font-weight="normal" >Group 3</text>
<path d="M365.6,349.2 L451.3,349.2 L451.3,338.3 L452.2,337.5 L452.2,326.9 L502.8,326.9" fill="none" stroke="#111" stroke-width="1.6" stroke-linejoin="round"/>
<path d="M365.6,349.0 L371.3,344.0 L376.2,340.0 L382.8,335.9 L387.7,334.2 L395.9,333.9 L400.8,332.6 L407.3,332.6 L410.6,330.1 L440.0,329.7 L462.8,329.7 L462.8,326.6 L510.2,326.6" fill="none" stroke="#111" stroke-width="1.3" stroke-dasharray="2.2,1" stroke-linejoin="round"/>
<line x1="392.0" y1="332.6" x2="392.0" y2="335.4" stroke="#111" stroke-width="0.8"/>
<line x1="404.0" y1="331.2" x2="404.0" y2="334.0" stroke="#111" stroke-width="0.8"/>
<line x1="418.0" y1="328.6" x2="418.0" y2="331.4" stroke="#111" stroke-width="0.8"/>
<line x1="428.0" y1="328.5" x2="428.0" y2="331.3" stroke="#111" stroke-width="0.8"/>
<line x1="438.0" y1="328.3" x2="438.0" y2="331.1" stroke="#111" stroke-width="0.8"/>
<line x1="446.0" y1="328.3" x2="446.0" y2="331.1" stroke="#111" stroke-width="0.8"/>
<line x1="456.0" y1="328.3" x2="456.0" y2="331.1" stroke="#111" stroke-width="0.8"/>
<line x1="466.0" y1="325.2" x2="466.0" y2="328.0" stroke="#111" stroke-width="0.8"/>
<line x1="472.0" y1="325.2" x2="472.0" y2="328.0" stroke="#111" stroke-width="0.8"/>
<line x1="478.0" y1="325.2" x2="478.0" y2="328.0" stroke="#111" stroke-width="0.8"/>
<line x1="484.0" y1="325.2" x2="484.0" y2="328.0" stroke="#111" stroke-width="0.8"/>
<line x1="490.0" y1="325.2" x2="490.0" y2="328.0" stroke="#111" stroke-width="0.8"/>
<line x1="496.0" y1="325.2" x2="496.0" y2="328.0" stroke="#111" stroke-width="0.8"/>
<line x1="502.0" y1="325.2" x2="502.0" y2="328.0" stroke="#111" stroke-width="0.8"/>
<line x1="508.0" y1="325.2" x2="508.0" y2="328.0" stroke="#111" stroke-width="0.8"/>
<path d="M366.4,349.0 L367.3,339.1 L368.1,329.3 L369.7,319.5 L370.5,311.3 L371.3,302.4 L376.2,302.4 L376.2,292.7 L383.6,292.7 L383.6,283.7 L397.5,283.7 L397.8,274.4 L422.8,274.4" fill="none" stroke="#111" stroke-width="1.3" stroke-dasharray="2.6,1.6" stroke-linejoin="round"/>
<text x="411.4" y="346.5" font-size="5.75" text-anchor="start" font-weight="normal" >Group 1</text>
<text x="411.4" y="327.7" font-size="5.75" text-anchor="start" font-weight="normal" >Group 2</text>
<text x="410.6" y="272.2" font-size="5.75" text-anchor="start" font-weight="normal" >Group 3</text>
</svg></div>
</body></html>
